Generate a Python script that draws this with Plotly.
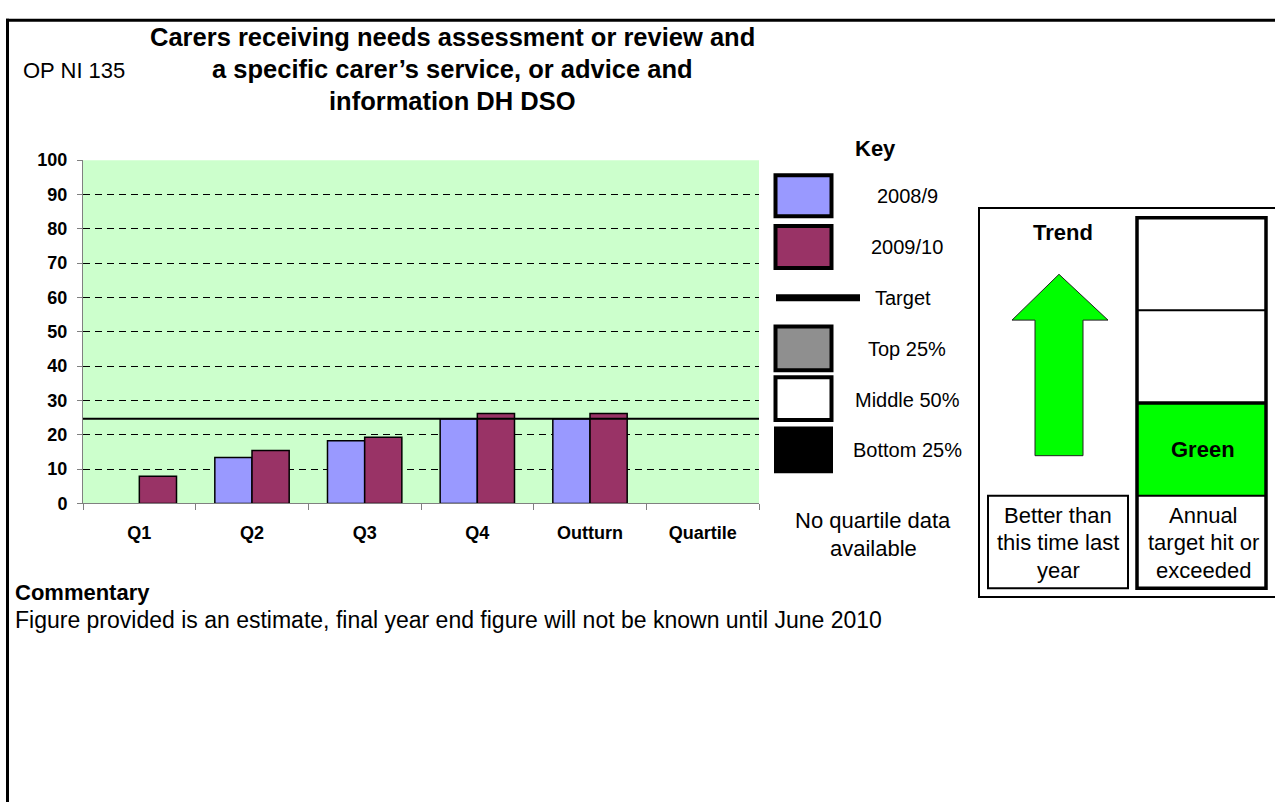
import plotly.graph_objects as go

# ---------------- data ----------------
categories = ["Q1", "Q2", "Q3", "Q4", "Outturn", "Quartile"]
series_2008 = [None, 13.4, 18.3, 24.7, 24.7, None]
series_2009 = [7.9, 15.4, 19.3, 26.2, 26.2, None]
target_value = 24.7
y_ticks = [0, 10, 20, 30, 40, 50, 60, 70, 80, 90, 100]
y_tick_labels = [str(v) for v in y_ticks]
legend_labels = ["2008/9", "2009/10", "Target", "Top 25%", "Middle 50%", "Bottom 25%"]

# ---------------- layout helpers ----------------
W, H = 1275, 807
FONT = "Arial, 'Liberation Sans', sans-serif"
BLUE = "#9999FF"
MAROON = "#993366"
PLOT_BG = "#CCFFCC"
ARROW_GREEN = "#00FF00"


def px(x):
    return x / W


def py(y):
    return 1 - y / H


shapes = []
annotations = []


def rect(x0, y0, x1, y1, fill="rgba(0,0,0,0)", lw=2, lc="black", layer="above"):
    shapes.append(dict(type="rect", xref="paper", yref="paper",
                       x0=px(x0), x1=px(x1), y0=py(y1), y1=py(y0),
                       fillcolor=fill, line=dict(color=lc, width=lw), layer=layer))


def hline(x0, x1, y, lw=2, lc="black"):
    shapes.append(dict(type="line", xref="paper", yref="paper",
                       x0=px(x0), x1=px(x1), y0=py(y), y1=py(y),
                       line=dict(color=lc, width=lw)))


def vline(x, y0, y1, lw=2, lc="black"):
    shapes.append(dict(type="line", xref="paper", yref="paper",
                       x0=px(x), x1=px(x), y0=py(y0), y1=py(y1),
                       line=dict(color=lc, width=lw)))


def text(x, y, s, size=20, bold=False, xanchor="center", color="black"):
    annotations.append(dict(xref="paper", yref="paper", x=px(x), y=py(y),
                            text=("<b>%s</b>" % s) if bold else s,
                            showarrow=False, xanchor=xanchor, yanchor="middle",
                            align="center",
                            font=dict(family=FONT, size=size, color=color)))


# ---------------- figure ----------------
fig = go.Figure()
fig.add_trace(go.Bar(x=categories, y=series_2008, name="2008/9",
                     marker=dict(color=BLUE, line=dict(color="black", width=1.5))))
fig.add_trace(go.Bar(x=categories, y=series_2009, name="2009/10",
                     marker=dict(color=MAROON, line=dict(color="black", width=1.5))))

# plot area background
shapes.append(dict(type="rect", xref="x domain", yref="y domain", x0=0, x1=1, y0=0, y1=1,
                   fillcolor=PLOT_BG, line=dict(width=0), layer="below"))
# target line
shapes.append(dict(type="line", xref="x domain", yref="y", x0=0, x1=1,
                   y0=target_value, y1=target_value,
                   line=dict(color="black", width=2), layer="above"))

# outer frame
hline(6, W + 5, 10.5, lw=3)
vline(7.5, 9, H + 5, lw=3)

# titles
text(21, 62, "OP NI 135", size=22, xanchor="left")
text(452, 28, "Carers receiving needs assessment or review and", size=25.5, bold=True)
text(452, 61, "a specific carer\u2019s service, or advice and", size=25.5, bold=True)
text(452, 93, "information DH DSO", size=25.5, bold=True)

# key
text(875, 142, "Key", size=22, bold=True)
rect(775.5, 169.5, 831.5, 211.5, fill=BLUE, lw=4)
rect(775.5, 221.5, 831.5, 264.5, fill=MAROON, lw=4)
shapes.append(dict(type="line", xref="paper", yref="paper",
                   x0=px(776), x1=px(860), y0=py(295), y1=py(295),
                   line=dict(color="black", width=7)))
rect(775.5, 324.5, 831.5, 369.5, fill="#8f8f8f", lw=4)
rect(775.5, 376.5, 831.5, 420.5, fill="white", lw=4)
rect(774, 427, 833, 475, fill="black", lw=0)
key_x = [907, 907, 903, 907, 907, 907]
key_y = [191, 243, 295, 348, 400, 451]
for lab, xx, yy in zip(legend_labels, key_x, key_y):
    text(xx, yy, lab, size=20)
text(873, 523, "No quartile data", size=22)
text(873, 552, "available", size=22)

# trend / target panel
rect(979, 203, W + 10, 602, lw=2)
text(1063, 228, "Trend", size=22, bold=True)
arrow_pts = [(1059, 271), (1108, 318), (1083, 318), (1083, 457), (1035, 457),
             (1035, 318), (1012, 318)]
path = "M " + " L ".join("%f,%f" % (px(x), py(y)) for x, y in arrow_pts) + " Z"
shapes.append(dict(type="path", xref="paper", yref="paper", path=path,
                   fillcolor=ARROW_GREEN, line=dict(color="#222222", width=1)))
rect(988, 498, 1128, 593, lw=2)
text(1058, 518, "Better than", size=22)
text(1058, 546, "this time last", size=22)
text(1058, 575, "year", size=22)

rect(1137, 403, 1266, 498, fill=ARROW_GREEN, lw=0)
rect(1137, 213, 1266, 593, lw=3.5)
hline(1137, 1266, 308, lw=2)
hline(1137, 1266, 403, lw=3.5)
hline(1137, 1266, 498, lw=2)
text(1203, 451, "Green", size=22, bold=True)
text(1203, 518, "Annual", size=22)
text(1203, 546, "target hit or", size=22)
text(1203, 575, "exceeded", size=22)

# commentary
text(13, 597, "Commentary", size=22, bold=True, xanchor="left")
text(13, 625, "Figure provided is an estimate, final year end figure will not be known until June 2010",
     size=23, xanchor="left")

fig.update_layout(
    width=W, height=H, autosize=False,
    margin=dict(l=0, r=0, t=0, b=0, pad=0),
    paper_bgcolor="white", plot_bgcolor="rgba(0,0,0,0)",
    barmode="group", bargap=0.34, bargroupgap=0,
    showlegend=False,
    shapes=shapes, annotations=annotations,
    font=dict(family=FONT, color="black"),
    xaxis=dict(domain=[px(83), px(759)], type="category",
               showline=True, linecolor="#808080", linewidth=1,
               ticks="outside", tickson="boundaries", ticklen=6, tickcolor="#808080",
               showgrid=False, zeroline=False, ticklabelstandoff=13,
               tickfont=dict(family=FONT, size=18, color="black", weight="bold"),
               fixedrange=True),
    yaxis=dict(domain=[py(506), py(154)], range=[0, 100],
               tickvals=y_ticks, ticktext=y_tick_labels,
               showline=True, linecolor="#808080", linewidth=1,
               ticks="outside", ticklen=5, tickcolor="#808080", ticklabelstandoff=6,
               showgrid=True, gridcolor="black", gridwidth=1, griddash="7px,5px",
               zeroline=False,
               tickfont=dict(family=FONT, size=18, color="black", weight="bold"),
               fixedrange=True),
)

fig.write_html("out.html", config={"displayModeBar": False},
               post_script="document.body.style.margin='0';document.body.style.overflow='hidden';")
